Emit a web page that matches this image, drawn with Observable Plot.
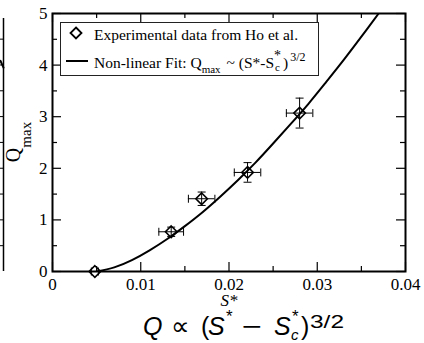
<!DOCTYPE html>
<html>
<head>
<meta charset="utf-8">
<script src="https://cdn.jsdelivr.net/npm/d3@7"></script>
<script src="https://cdn.jsdelivr.net/npm/@observablehq/plot@0.6"></script>
<style>
  body { margin: 0; background: #fff; }
  #wrap { position: relative; width: 424px; height: 343px; overflow: hidden; background: #fff; }
  #wrap svg { position: absolute; top: 0; left: 0; overflow: visible; }
  .legend {
    position: absolute; left: 60px; top: 22px; width: 259px; height: 54px;
    border: 1px solid #222; background: #fff; box-sizing: border-box;
    font-family: "Liberation Serif", "Times New Roman", serif; font-size: 15.5px; color: #000;
  }
  .legend .row { position: absolute; left: 33px; white-space: nowrap; line-height: 1; }
  .legend svg.sym { position: absolute; }
  .legend .sub { font-size: 11px; position: relative; top: 5px; margin-right: 2px; }
  .legend .sup { font-size: 12px; position: relative; top: -7px; margin-left: 2px; }
  .legend .stack { display: inline-block; position: relative; width: 9px; height: 1em; vertical-align: baseline; }
  .legend .stack .a { position: absolute; left: 0; top: -3px; font-size: 14px; }
  .legend .stack .b { position: absolute; left: 1px; top: 10px; font-size: 11px; }
</style>
</head>
<body>
<div id="wrap"></div>
<script>
// Measured Q_max versus S* (experimental data from Ho et al.) with error bars
const sStar = [0.0048, 0.01345, 0.0169, 0.0221, 0.0280];
const qMax  = [0.0,    0.77,    1.41,   1.92,   3.07];
const sErr  = [0.0004, 0.0014,  0.0015, 0.0015, 0.0015];
const qErr  = [0.0,    0.09,    0.13,   0.19,   0.29];

// Non-linear fit Q_max ~ (S* - S*_c)^(3/2), sampled along the drawn curve
const fitS = [0.005, 0.007, 0.009, 0.011, 0.013, 0.015, 0.017, 0.019, 0.021, 0.023, 0.025, 0.027, 0.029, 0.031, 0.033, 0.035, 0.037, 0.038];
const fitQ = [0.0,   0.08,  0.22,  0.41,  0.63,  0.88,  1.15,  1.45,  1.77,  2.11,  2.48,  2.86,  3.25,  3.67,  4.10,  4.55,  5.01,  5.25];

// Axis ticks
const xTicks = [0, 0.01, 0.02, 0.03, 0.04];
const xTickLabels = ["0", "0.01", "0.02", "0.03", "0.04"];
const xMinor = [0.005, 0.015, 0.025, 0.035];
const yTicks = [0, 1, 2, 3, 4, 5];
const yTickLabels = ["0", "1", "2", "3", "4", "5"];
const yMinor = [0.5, 1.5, 2.5, 3.5, 4.5];

// Edge of the neighbouring panel on the left
const leftTicks = [0.5, 1, 1.5, 2, 2.5, 3, 3.5, 4, 4.5];
const leftCurveX = [0.0, 1.0];
const leftCurveY = [4.08, 3.95];

const points = sStar.map((s, i) => ({s, q: qMax[i], se: sErr[i], qe: qErr[i]}));
const fit = fitS.map((s, i) => ({s, q: fitQ[i]}));

const SERIF = "'Liberation Serif', 'Times New Roman', serif";
const SANS = "'Liberation Sans', Arial, sans-serif";

const W = 424, H = 312;
const mL = 52, mR = 19, mT = 13, mB = 41;
const innerW = W - mL - mR, innerH = H - mT - mB;
const major = 9, minor = 5;

// Error-bar caps as custom symbols (short strokes of fixed pixel length)
const capV = {draw(ctx) { ctx.moveTo(0, -4); ctx.lineTo(0, 4); }};
const capH = {draw(ctx) { ctx.moveTo(-4, 0); ctx.lineTo(4, 0); }};

const hasQErr = points.filter(d => d.qe > 0);

const chart = Plot.plot({
  width: W, height: H,
  marginLeft: mL, marginRight: mR, marginTop: mT, marginBottom: mB,
  style: {background: "transparent", color: "#000"},
  x: {domain: [0, 0.04]},
  y: {domain: [0, 5]},
  marks: [
    // fit curve
    Plot.line(fit, {x: "s", y: "q", curve: "natural", stroke: "#000", strokeWidth: 2, clip: true}),
    // horizontal error bars
    Plot.ruleY(points, {y: "q", x1: d => d.s - d.se, x2: d => d.s + d.se, stroke: "#000", strokeWidth: 1}),
    Plot.dot(points, {x: d => d.s - d.se, y: "q", symbol: capV, r: 4, stroke: "#000", strokeWidth: 1, fill: "none"}),
    Plot.dot(points, {x: d => d.s + d.se, y: "q", symbol: capV, r: 4, stroke: "#000", strokeWidth: 1, fill: "none"}),
    // vertical error bars
    Plot.ruleX(hasQErr, {x: "s", y1: d => d.q - d.qe, y2: d => d.q + d.qe, stroke: "#000", strokeWidth: 1}),
    Plot.dot(hasQErr, {x: "s", y: d => d.q - d.qe, symbol: capH, r: 4, stroke: "#000", strokeWidth: 1, fill: "none"}),
    Plot.dot(hasQErr, {x: "s", y: d => d.q + d.qe, symbol: capH, r: 4, stroke: "#000", strokeWidth: 1, fill: "none"}),
    // data markers
    Plot.dot(points, {x: "s", y: "q", symbol: "diamond2", r: 5.2, stroke: "#000", strokeWidth: 1.6, fill: "none"}),
    // inward ticks on all four sides
    Plot.tickX(xTicks, {insetTop: innerH - major, stroke: "#000", strokeWidth: 1.2}),
    Plot.tickX(xMinor, {insetTop: innerH - minor, stroke: "#000", strokeWidth: 1.2}),
    Plot.tickX(xTicks, {insetBottom: innerH - major, stroke: "#000", strokeWidth: 1.2}),
    Plot.tickX(xMinor, {insetBottom: innerH - minor, stroke: "#000", strokeWidth: 1.2}),
    Plot.tickY(yTicks, {insetRight: innerW - major, stroke: "#000", strokeWidth: 1.2}),
    Plot.tickY(yMinor, {insetRight: innerW - minor, stroke: "#000", strokeWidth: 1.2}),
    Plot.tickY(yTicks, {insetLeft: innerW - major, stroke: "#000", strokeWidth: 1.2}),
    Plot.tickY(yMinor, {insetLeft: innerW - minor, stroke: "#000", strokeWidth: 1.2}),
    Plot.frame({stroke: "#000", strokeWidth: 2}),
    // tick labels
    Plot.axisX({ticks: xTicks, tickFormat: d => xTickLabels[xTicks.indexOf(d)], tickSize: 0, tickPadding: 6, label: null, fontSize: 17, fill: "#000"}),
    Plot.axisY({ticks: yTicks, tickFormat: d => yTickLabels[yTicks.indexOf(d)], tickSize: 0, tickPadding: 5, label: null, fontSize: 17, fill: "#000"}),
    // x axis title
    Plot.text(["S*"], {frameAnchor: "bottom", dy: 34, fontStyle: "italic", fontSize: 17, fill: "#000"})
  ]
});

// serif type throughout the chart
const svg = d3.select(chart);
svg.attr("font-family", SERIF).style("font-family", SERIF);
svg.selectAll("g, text, tspan").attr("font-family", SERIF).style("font-family", SERIF);

// y axis title with subscript
const yl = svg.append("text")
  .attr("transform", `translate(20,${mT + innerH / 2}) rotate(-90)`)
  .attr("text-anchor", "middle")
  .attr("fill", "#000")
  .style("font-family", SERIF);
yl.append("tspan").attr("font-size", 20).text("Q");
yl.append("tspan").attr("font-size", 15).attr("dy", 11).text("max");

// fragment of the neighbouring panel at the left edge
const side = Plot.plot({
  width: 6, height: H,
  marginLeft: 0, marginRight: 3, marginTop: 18, marginBottom: mB,
  x: {domain: [0, 1], axis: null},
  y: {domain: [0, 4.9], axis: null},
  style: {background: "transparent"},
  marks: [
    Plot.ruleX([1], {stroke: "#000", strokeWidth: 1.5}),
    Plot.tickY(leftTicks, {insetRight: 0, insetLeft: 3 - minor, stroke: "#000", strokeWidth: 1}),
    Plot.line(leftCurveX.map((x, i) => ({x, y: leftCurveY[i]})), {x: "x", y: "y", stroke: "#000", strokeWidth: 2})
  ]
});

const wrap = document.getElementById("wrap");
wrap.appendChild(side);
wrap.appendChild(chart);

// legend box
const legend = document.createElement("div");
legend.className = "legend";
legend.innerHTML = `
  <svg class="sym" style="left:7px;top:2px" width="16" height="16"><path d="M8,2.5L13.5,8L8,13.5L2.5,8Z" fill="none" stroke="#000" stroke-width="1.8"/></svg>
  <div class="row" style="top:4px">Experimental data from Ho et al.</div>
  <svg class="sym" style="left:4px;top:36px" width="24" height="4"><line x1="1" y1="2" x2="23" y2="2" stroke="#000" stroke-width="2"/></svg>
  <div class="row" style="top:29px">Non-linear Fit: Q<span class="sub">max</span> ~ (S*-S<span class="stack"><span class="a">*</span><span class="b">c</span></span>)<span class="sup">3/2</span></div>`;
wrap.appendChild(legend);

// caption below the chart: Q ∝ (S* − S*_c)^{3/2}
const ns = "http://www.w3.org/2000/svg";
const capSvg = document.createElementNS(ns, "svg");
capSvg.setAttribute("width", W);
capSvg.setAttribute("height", 343);
capSvg.style.pointerEvents = "none";
const capText = d3.select(capSvg).append("g")
  .attr("fill", "#000").style("font-family", SANS);
const pieces = [
  {t: "Q", x: 143, y: 335, s: 25, it: true},
  {t: "\u221D", x: 171, y: 335, s: 26},
  {t: "(", x: 201, y: 335, s: 25},
  {t: "S", x: 208, y: 335, s: 25, it: true},
  {t: "*", x: 226, y: 322, s: 17},
  {t: "\u2212", x: 242, y: 335, s: 25, len: 20},
  {t: "S", x: 274, y: 335, s: 25, it: true},
  {t: "*", x: 292, y: 322, s: 17},
  {t: "c", x: 291, y: 340, s: 15, it: true},
  {t: ")", x: 301, y: 335, s: 25},
  {t: "3/2", x: 310, y: 328, s: 19, len: 34}
];
for (const p of pieces) {
  const el = capText.append("text").attr("x", p.x).attr("y", p.y)
    .attr("font-size", p.s).attr("font-style", p.it ? "italic" : null).text(p.t);
  if (p.len) el.attr("textLength", p.len).attr("lengthAdjust", "spacingAndGlyphs");
}
wrap.appendChild(capSvg);
</script>
</body>
</html>
